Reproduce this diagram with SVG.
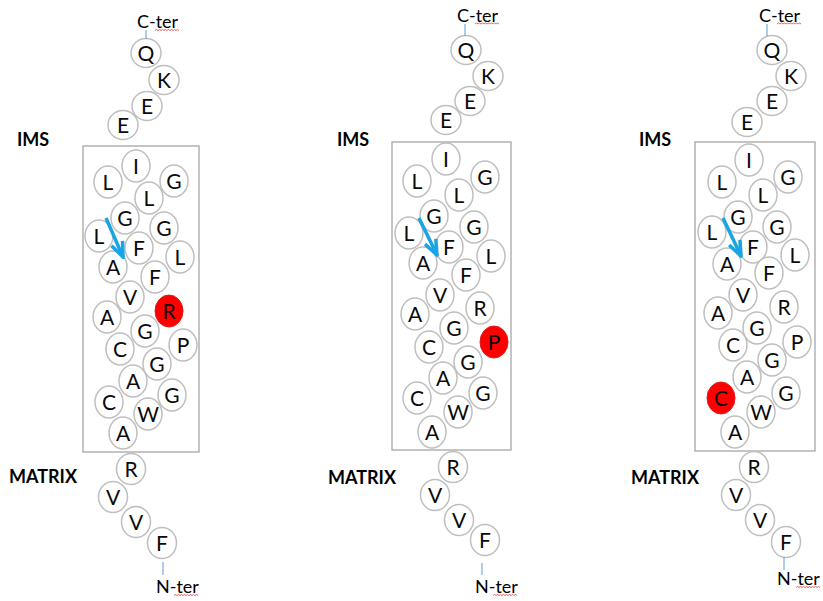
<svg xmlns="http://www.w3.org/2000/svg" width="823" height="601" viewBox="0 0 823 601">
<style>
.c{fill:#fff;stroke:#bfbfbf;stroke-width:1.5}
.red{fill:#f00;stroke:#e31b1b;stroke-width:1}
.t{font-family:Lato,"Liberation Sans",sans-serif;font-size:21px;text-anchor:middle;fill:#0a0a0a}
.lbl{font-family:Lato,"Liberation Sans",sans-serif;font-size:18px;fill:#000}
.b{font-weight:bold}
.box{fill:none;stroke:#a6a6a6;stroke-width:1.3}
.tail{stroke:#5b9bd5;stroke-width:1;fill:none}
.sq{stroke:#e33;stroke-width:0.8;fill:none}
.arr{stroke:#19a4e6;stroke-width:3.5;fill:none}
</style>
<defs>
<marker id="ah" viewBox="0 0 18 16" refX="16" refY="8" markerWidth="18" markerHeight="16" markerUnits="userSpaceOnUse" orient="auto">
<path d="M1,2 L16,8 L1,14" fill="none" stroke="#19a4e6" stroke-width="3.5"/>
</marker>
</defs>

<g id="labels">
<text class="lbl" x="137" y="28">C-ter</text>
<text class="lbl" x="156" y="593">N-ter</text>
<text class="lbl b" x="17" y="146">IMS</text>
<text class="lbl b" x="9" y="483">MATRIX</text>
<text class="lbl" x="457" y="22">C-ter</text>
<text class="lbl" x="475" y="593">N-ter</text>
<text class="lbl b" x="337" y="146">IMS</text>
<text class="lbl b" x="328" y="484">MATRIX</text>
<text class="lbl" x="759" y="22">C-ter</text>
<text class="lbl" x="777" y="585">N-ter</text>
<text class="lbl b" x="639" y="146">IMS</text>
<text class="lbl b" x="631" y="484">MATRIX</text>
<path class="sq" d="M155,30.5 l1.5,-1 l1.5,1 l1.5,-1 l1.5,1 l1.5,-1 l1.5,1 l1.5,-1 l1.5,1 l1.5,-1 l1.5,1 l1.5,-1 l1.5,1 l1.5,-1 l1.5,1 l1.5,-1 l1.5,1"/>
<path class="sq" d="M174,595.5 l1.5,-1 l1.5,1 l1.5,-1 l1.5,1 l1.5,-1 l1.5,1 l1.5,-1 l1.5,1 l1.5,-1 l1.5,1 l1.5,-1 l1.5,1 l1.5,-1 l1.5,1 l1.5,-1 l1.5,1"/>
<path class="sq" d="M475,24 l1.5,-1 l1.5,1 l1.5,-1 l1.5,1 l1.5,-1 l1.5,1 l1.5,-1 l1.5,1 l1.5,-1 l1.5,1 l1.5,-1 l1.5,1 l1.5,-1 l1.5,1 l1.5,-1 l1.5,1"/>
<path class="sq" d="M493,595.5 l1.5,-1 l1.5,1 l1.5,-1 l1.5,1 l1.5,-1 l1.5,1 l1.5,-1 l1.5,1 l1.5,-1 l1.5,1 l1.5,-1 l1.5,1 l1.5,-1 l1.5,1 l1.5,-1 l1.5,1"/>
<path class="sq" d="M777,24 l1.5,-1 l1.5,1 l1.5,-1 l1.5,1 l1.5,-1 l1.5,1 l1.5,-1 l1.5,1 l1.5,-1 l1.5,1 l1.5,-1 l1.5,1 l1.5,-1 l1.5,1 l1.5,-1 l1.5,1"/>
<path class="sq" d="M796,587.5 l1.5,-1 l1.5,1 l1.5,-1 l1.5,1 l1.5,-1 l1.5,1 l1.5,-1 l1.5,1 l1.5,-1 l1.5,1 l1.5,-1 l1.5,1 l1.5,-1 l1.5,1 l1.5,-1 l1.5,1"/>
</g>

<g id="membranes">
<rect class="box" x="83" y="146" width="116" height="306"/>
<rect class="box" x="392" y="142" width="119" height="308"/>
<rect class="box" x="695" y="142" width="120" height="309"/>
</g>

<!-- Panel 1 -->
<g id="p1">
<g id="p1-Q"><ellipse class="c" cx="146" cy="53" rx="15" ry="14.5"/><text class="t" x="146" y="60.5">Q</text></g>
<g id="p1-K"><ellipse class="c" cx="164" cy="80" rx="15" ry="14.5"/><text class="t" x="164" y="87.5">K</text></g>
<g id="p1-E1"><ellipse class="c" cx="147" cy="106" rx="15" ry="14.5"/><text class="t" x="147" y="113.5">E</text></g>
<g id="p1-E2"><ellipse class="c" cx="123" cy="125" rx="15" ry="14.5"/><text class="t" x="123" y="132.5">E</text></g>
<g id="p1-I"><ellipse class="c" cx="136" cy="166" rx="14" ry="16"/><text class="t" x="136" y="173.5">I</text></g>
<g id="p1-L1"><ellipse class="c" cx="108" cy="182" rx="14" ry="16"/><text class="t" x="108" y="189.5">L</text></g>
<g id="p1-G1"><ellipse class="c" cx="174" cy="181" rx="14" ry="16"/><text class="t" x="174" y="188.5">G</text></g>
<g id="p1-L2"><ellipse class="c" cx="149" cy="198" rx="14" ry="16"/><text class="t" x="149" y="205.5">L</text></g>
<g id="p1-G2"><ellipse class="c" cx="125" cy="218" rx="14" ry="16"/><text class="t" x="125" y="225.5">G</text></g>
<g id="p1-G3"><ellipse class="c" cx="164" cy="228" rx="14" ry="16"/><text class="t" x="164" y="235.5">G</text></g>
<g id="p1-L3"><ellipse class="c" cx="99" cy="236" rx="14" ry="16"/><text class="t" x="99" y="243.5">L</text></g>
<g id="p1-F1"><ellipse class="c" cx="139" cy="248" rx="14" ry="16"/><text class="t" x="139" y="255.5">F</text></g>
<g id="p1-L4"><ellipse class="c" cx="180" cy="257" rx="14" ry="16"/><text class="t" x="180" y="264.5">L</text></g>
<g id="p1-A1"><ellipse class="c" cx="113" cy="267" rx="14" ry="16"/><text class="t" x="113" y="274.5">A</text></g>
<g id="p1-F2"><ellipse class="c" cx="155" cy="277" rx="14" ry="16"/><text class="t" x="155" y="284.5">F</text></g>
<g id="p1-V1"><ellipse class="c" cx="130" cy="297" rx="14" ry="16"/><text class="t" x="130" y="304.5">V</text></g>
<g id="p1-R1"><ellipse class="red" cx="169" cy="311" rx="14" ry="16"/><text class="t" x="169" y="318.5">R</text></g>
<g id="p1-A2"><ellipse class="c" cx="107" cy="317" rx="14" ry="16"/><text class="t" x="107" y="324.5">A</text></g>
<g id="p1-G4"><ellipse class="c" cx="145" cy="331" rx="14" ry="16"/><text class="t" x="145" y="338.5">G</text></g>
<g id="p1-P"><ellipse class="c" cx="183" cy="345" rx="14" ry="16"/><text class="t" x="183" y="352.5">P</text></g>
<g id="p1-C1"><ellipse class="c" cx="120" cy="349" rx="14" ry="16"/><text class="t" x="120" y="356.5">C</text></g>
<g id="p1-G5"><ellipse class="c" cx="157" cy="364" rx="14" ry="16"/><text class="t" x="157" y="371.5">G</text></g>
<g id="p1-A3"><ellipse class="c" cx="133" cy="381" rx="14" ry="16"/><text class="t" x="133" y="388.5">A</text></g>
<g id="p1-G6"><ellipse class="c" cx="172" cy="395" rx="14" ry="16"/><text class="t" x="172" y="402.5">G</text></g>
<g id="p1-C2"><ellipse class="c" cx="109" cy="402" rx="14" ry="16"/><text class="t" x="109" y="409.5">C</text></g>
<g id="p1-W"><ellipse class="c" cx="148" cy="414" rx="14" ry="16"/><text class="t" x="148" y="421.5">W</text></g>
<g id="p1-A4"><ellipse class="c" cx="123" cy="433" rx="14" ry="16"/><text class="t" x="123" y="440.5">A</text></g>
<g id="p1-R2"><ellipse class="c" cx="131" cy="469" rx="14.5" ry="15.5"/><text class="t" x="131" y="476.5">R</text></g>
<g id="p1-V2"><ellipse class="c" cx="113" cy="497" rx="14.5" ry="15.5"/><text class="t" x="113" y="504.5">V</text></g>
<g id="p1-V3"><ellipse class="c" cx="136" cy="522" rx="14.5" ry="15.5"/><text class="t" x="136" y="529.5">V</text></g>
<g id="p1-F3"><ellipse class="c" cx="162" cy="543" rx="14.5" ry="15.5"/><text class="t" x="162" y="550.5">F</text></g>
</g>

<!-- Panel 2 -->
<g id="p2">
<g id="p2-Q"><ellipse class="c" cx="466" cy="50" rx="15" ry="14.5"/><text class="t" x="466" y="57.5">Q</text></g>
<g id="p2-K"><ellipse class="c" cx="488" cy="76" rx="15" ry="14.5"/><text class="t" x="488" y="83.5">K</text></g>
<g id="p2-E1"><ellipse class="c" cx="470" cy="101" rx="15" ry="14.5"/><text class="t" x="470" y="108.5">E</text></g>
<g id="p2-E2"><ellipse class="c" cx="446" cy="120" rx="15" ry="14.5"/><text class="t" x="446" y="127.5">E</text></g>
<g id="p2-I"><ellipse class="c" cx="446" cy="159" rx="14" ry="16"/><text class="t" x="446" y="166.5">I</text></g>
<g id="p2-L1"><ellipse class="c" cx="417" cy="181" rx="14" ry="16"/><text class="t" x="417" y="188.5">L</text></g>
<g id="p2-G1"><ellipse class="c" cx="485" cy="177" rx="14" ry="16"/><text class="t" x="485" y="184.5">G</text></g>
<g id="p2-L2"><ellipse class="c" cx="459" cy="195" rx="14" ry="16"/><text class="t" x="459" y="202.5">L</text></g>
<g id="p2-G2"><ellipse class="c" cx="434" cy="216" rx="14" ry="16"/><text class="t" x="434" y="223.5">G</text></g>
<g id="p2-G3"><ellipse class="c" cx="474" cy="227" rx="14" ry="16"/><text class="t" x="474" y="234.5">G</text></g>
<g id="p2-L3"><ellipse class="c" cx="409" cy="233" rx="14" ry="16"/><text class="t" x="409" y="240.5">L</text></g>
<g id="p2-F1"><ellipse class="c" cx="449" cy="247" rx="14" ry="16"/><text class="t" x="449" y="254.5">F</text></g>
<g id="p2-L4"><ellipse class="c" cx="491" cy="256" rx="14" ry="16"/><text class="t" x="491" y="263.5">L</text></g>
<g id="p2-A1"><ellipse class="c" cx="423" cy="263" rx="14" ry="16"/><text class="t" x="423" y="270.5">A</text></g>
<g id="p2-F2"><ellipse class="c" cx="466" cy="275" rx="14" ry="16"/><text class="t" x="466" y="282.5">F</text></g>
<g id="p2-V1"><ellipse class="c" cx="440" cy="295" rx="14" ry="16"/><text class="t" x="440" y="302.5">V</text></g>
<g id="p2-R1"><ellipse class="c" cx="480" cy="308" rx="14" ry="16"/><text class="t" x="480" y="315.5">R</text></g>
<g id="p2-A2"><ellipse class="c" cx="415" cy="314" rx="14" ry="16"/><text class="t" x="415" y="321.5">A</text></g>
<g id="p2-G4"><ellipse class="c" cx="454" cy="328" rx="14" ry="16"/><text class="t" x="454" y="335.5">G</text></g>
<g id="p2-P"><ellipse class="red" cx="494" cy="342" rx="14" ry="16"/><text class="t" x="494" y="349.5">P</text></g>
<g id="p2-C1"><ellipse class="c" cx="429" cy="347" rx="14" ry="16"/><text class="t" x="429" y="354.5">C</text></g>
<g id="p2-G5"><ellipse class="c" cx="468" cy="362" rx="14" ry="16"/><text class="t" x="468" y="369.5">G</text></g>
<g id="p2-A3"><ellipse class="c" cx="443" cy="378" rx="14" ry="16"/><text class="t" x="443" y="385.5">A</text></g>
<g id="p2-G6"><ellipse class="c" cx="483" cy="393" rx="14" ry="16"/><text class="t" x="483" y="400.5">G</text></g>
<g id="p2-C2"><ellipse class="c" cx="417" cy="398" rx="14" ry="16"/><text class="t" x="417" y="405.5">C</text></g>
<g id="p2-W"><ellipse class="c" cx="458" cy="412" rx="14" ry="16"/><text class="t" x="458" y="419.5">W</text></g>
<g id="p2-A4"><ellipse class="c" cx="432" cy="432" rx="14" ry="16"/><text class="t" x="432" y="439.5">A</text></g>
<g id="p2-R2"><ellipse class="c" cx="453" cy="467" rx="14.5" ry="15.5"/><text class="t" x="453" y="474.5">R</text></g>
<g id="p2-V2"><ellipse class="c" cx="435" cy="495" rx="14.5" ry="15.5"/><text class="t" x="435" y="502.5">V</text></g>
<g id="p2-V3"><ellipse class="c" cx="459" cy="520" rx="14.5" ry="15.5"/><text class="t" x="459" y="527.5">V</text></g>
<g id="p2-F3"><ellipse class="c" cx="485" cy="540" rx="14.5" ry="15.5"/><text class="t" x="485" y="547.5">F</text></g>
</g>

<!-- Panel 3 -->
<g id="p3">
<g id="p3-Q"><ellipse class="c" cx="772" cy="50" rx="15" ry="14.5"/><text class="t" x="772" y="57.5">Q</text></g>
<g id="p3-K"><ellipse class="c" cx="791" cy="76" rx="15" ry="14.5"/><text class="t" x="791" y="83.5">K</text></g>
<g id="p3-E1"><ellipse class="c" cx="772" cy="101" rx="15" ry="14.5"/><text class="t" x="772" y="108.5">E</text></g>
<g id="p3-E2"><ellipse class="c" cx="747" cy="122" rx="15" ry="14.5"/><text class="t" x="747" y="129.5">E</text></g>
<g id="p3-I"><ellipse class="c" cx="749" cy="160" rx="14" ry="16"/><text class="t" x="749" y="167.5">I</text></g>
<g id="p3-L1"><ellipse class="c" cx="722" cy="182" rx="14" ry="16"/><text class="t" x="722" y="189.5">L</text></g>
<g id="p3-G1"><ellipse class="c" cx="788" cy="177" rx="14" ry="16"/><text class="t" x="788" y="184.5">G</text></g>
<g id="p3-L2"><ellipse class="c" cx="763" cy="195" rx="14" ry="16"/><text class="t" x="763" y="202.5">L</text></g>
<g id="p3-G2"><ellipse class="c" cx="738" cy="217" rx="14" ry="16"/><text class="t" x="738" y="224.5">G</text></g>
<g id="p3-G3"><ellipse class="c" cx="777" cy="227" rx="14" ry="16"/><text class="t" x="777" y="234.5">G</text></g>
<g id="p3-L3"><ellipse class="c" cx="712" cy="232" rx="14" ry="16"/><text class="t" x="712" y="239.5">L</text></g>
<g id="p3-F1"><ellipse class="c" cx="753" cy="247" rx="14" ry="16"/><text class="t" x="753" y="254.5">F</text></g>
<g id="p3-L4"><ellipse class="c" cx="795" cy="255" rx="14" ry="16"/><text class="t" x="795" y="262.5">L</text></g>
<g id="p3-A1"><ellipse class="c" cx="727" cy="264" rx="14" ry="16"/><text class="t" x="727" y="271.5">A</text></g>
<g id="p3-F2"><ellipse class="c" cx="769" cy="273" rx="14" ry="16"/><text class="t" x="769" y="280.5">F</text></g>
<g id="p3-V1"><ellipse class="c" cx="743" cy="295" rx="14" ry="16"/><text class="t" x="743" y="302.5">V</text></g>
<g id="p3-R1"><ellipse class="c" cx="784" cy="307" rx="14" ry="16"/><text class="t" x="784" y="314.5">R</text></g>
<g id="p3-A2"><ellipse class="c" cx="718" cy="313" rx="14" ry="16"/><text class="t" x="718" y="320.5">A</text></g>
<g id="p3-G4"><ellipse class="c" cx="757" cy="328" rx="14" ry="16"/><text class="t" x="757" y="335.5">G</text></g>
<g id="p3-P"><ellipse class="c" cx="797" cy="342" rx="14" ry="16"/><text class="t" x="797" y="349.5">P</text></g>
<g id="p3-C1"><ellipse class="c" cx="733" cy="345" rx="14" ry="16"/><text class="t" x="733" y="352.5">C</text></g>
<g id="p3-G5"><ellipse class="c" cx="772" cy="360" rx="14" ry="16"/><text class="t" x="772" y="367.5">G</text></g>
<g id="p3-A3"><ellipse class="c" cx="747" cy="377" rx="14" ry="16"/><text class="t" x="747" y="384.5">A</text></g>
<g id="p3-G6"><ellipse class="c" cx="786" cy="393" rx="14" ry="16"/><text class="t" x="786" y="400.5">G</text></g>
<g id="p3-C2"><ellipse class="red" cx="721" cy="398" rx="14" ry="16"/><text class="t" x="721" y="405.5">C</text></g>
<g id="p3-W"><ellipse class="c" cx="761" cy="412" rx="14" ry="16"/><text class="t" x="761" y="419.5">W</text></g>
<g id="p3-A4"><ellipse class="c" cx="735" cy="432" rx="14" ry="16"/><text class="t" x="735" y="439.5">A</text></g>
<g id="p3-R2"><ellipse class="c" cx="754" cy="467" rx="14.5" ry="15.5"/><text class="t" x="754" y="474.5">R</text></g>
<g id="p3-V2"><ellipse class="c" cx="736" cy="495" rx="14.5" ry="15.5"/><text class="t" x="736" y="502.5">V</text></g>
<g id="p3-V3"><ellipse class="c" cx="760" cy="520" rx="14.5" ry="15.5"/><text class="t" x="760" y="527.5">V</text></g>
<g id="p3-F3"><ellipse class="c" cx="786" cy="542" rx="14.5" ry="15.5"/><text class="t" x="786" y="549.5">F</text></g>
</g>

<g id="connectors">
<line class="tail" x1="146" y1="30" x2="146" y2="39"/>
<line class="tail" x1="163" y1="562" x2="163" y2="575"/>
<line class="tail" x1="465" y1="24" x2="465" y2="36"/>
<line class="tail" x1="482" y1="563" x2="482" y2="575"/>
<line class="tail" x1="767" y1="24" x2="767" y2="36"/>
<line class="tail" x1="784" y1="557" x2="784" y2="570"/>
<line class="arr" x1="106" y1="218" x2="123" y2="257" marker-end="url(#ah)"/>
<line class="arr" x1="419" y1="218" x2="437" y2="255" marker-end="url(#ah)"/>
<line class="arr" x1="723" y1="218" x2="741" y2="256" marker-end="url(#ah)"/>
</g>
</svg>
